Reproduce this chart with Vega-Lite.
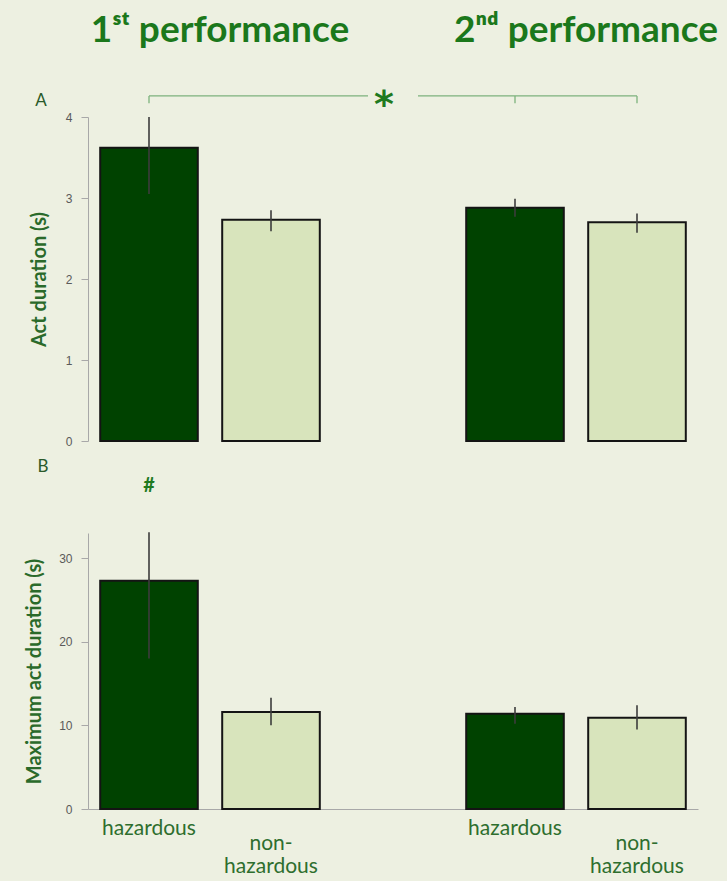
{
  "$schema": "https://vega.github.io/schema/vega-lite/v6.json",
  "background": "#edf0e1",
  "padding": {"left": 24, "top": 12, "right": 13, "bottom": 3},
  "bounds": "flush",
  "spacing": 92,
  "config": {
    "view": {"stroke": null},
    "font": "Lato",
    "axis": {
      "domainColor": "#a8a8a8",
      "tickColor": "#a8a8a8",
      "tickSize": 7,
      "labelColor": "#5a5a5a",
      "labelFont": "Liberation Sans",
      "labelFontSize": 12,
      "labelPadding": 9,
      "titleColor": "#2a6a2a",
      "titleFont": "Lato",
      "titleFontSize": 20,
      "titleFontWeight": "bold",
      "grid": false
    }
  },
  "datasets": {
    "act": [
      {"cond": "h1", "group": "hazardous", "mean": 3.62, "lo": 3.05, "hi": 4.0},
      {"cond": "n1", "group": "non-hazardous", "mean": 2.73, "lo": 2.59, "hi": 2.85},
      {"cond": "h2", "group": "hazardous", "mean": 2.88, "lo": 2.77, "hi": 2.99},
      {"cond": "n2", "group": "non-hazardous", "mean": 2.70, "lo": 2.57, "hi": 2.81}
    ],
    "maxact": [
      {"cond": "h1", "group": "hazardous", "mean": 27.3, "lo": 18.0, "hi": 33.1},
      {"cond": "n1", "group": "non-hazardous", "mean": 11.6, "lo": 10.0, "hi": 13.3},
      {"cond": "h2", "group": "hazardous", "mean": 11.4, "lo": 10.2, "hi": 12.2},
      {"cond": "n2", "group": "non-hazardous", "mean": 10.9, "lo": 9.5, "hi": 12.4}
    ],
    "titles": [
      {"cond": "h1", "text": "1ˢᵗ performance"},
      {"cond": "h2", "text": "2ⁿᵈ performance"}
    ],
    "bracket": [{"from": "h1", "to": "n2"}],
    "bracketTicks": [{"cond": "h1"}, {"cond": "h2"}, {"cond": "n2"}],
    "labels": [
      {"cond": "h1", "kind": "haz", "label": "hazardous"},
      {"cond": "n1", "kind": "non", "label": "non-\nhazardous"},
      {"cond": "h2", "kind": "haz", "label": "hazardous"},
      {"cond": "n2", "kind": "non", "label": "non-\nhazardous"}
    ]
  },
  "vconcat": [
    {
      "width": 610,
      "height": 324,
      "layer": [
        {
          "data": {"name": "act"},
          "mark": {"type": "bar", "stroke": "#141414", "strokeWidth": 2},
          "encoding": {
            "x": {"field": "cond", "type": "nominal", "scale": {"domain": ["h1", "n1", "gap", "h2", "n2"], "paddingInner": 0.2, "paddingOuter": 0.1}, "axis": null},
            "y": {"field": "mean", "type": "quantitative", "scale": {"domain": [0, 4], "nice": false}, "axis": {"title": "Act duration (s)", "values": [0, 1, 2, 3, 4], "format": "d", "titlePadding": 16}},
            "fill": {"field": "group", "type": "nominal", "scale": {"domain": ["hazardous", "non-hazardous"], "range": ["#004200", "#d8e4bc"]}, "legend": null}
          }
        },
        {
          "data": {"name": "act"},
          "mark": {"type": "rule", "color": "#3c3c3c", "strokeWidth": 1.6},
          "encoding": {
            "x": {"field": "cond", "type": "nominal"},
            "y": {"field": "lo", "type": "quantitative"},
            "y2": {"field": "hi"}
          }
        },
        {
          "data": {"name": "bracket"},
          "mark": {"type": "rule", "color": "#7cb27c", "strokeWidth": 1.3},
          "encoding": {
            "x": {"field": "from", "type": "nominal"},
            "x2": {"field": "to"},
            "y": {"datum": 4.26}
          }
        },
        {
          "data": {"name": "bracketTicks"},
          "mark": {"type": "rule", "color": "#7cb27c", "strokeWidth": 1.3},
          "encoding": {
            "x": {"field": "cond", "type": "nominal"},
            "y": {"datum": 4.26},
            "y2": {"datum": 4.17}
          }
        },
        {
          "data": {"values": [{"cond": "gap", "sig": "*"}]},
          "mark": {"type": "point", "shape": "square", "size": 2500, "filled": true, "color": "#edf0e1", "opacity": 1},
          "encoding": {
            "x": {"field": "cond", "type": "nominal"},
            "y": {"datum": 4.26}
          }
        },
        {
          "data": {"values": [{"cond": "gap", "sig": "*"}]},
          "mark": {"type": "text", "font": "DejaVu Sans", "fontSize": 38, "fontWeight": "bold", "color": "#1f7a1f", "baseline": "middle", "dy": 10, "dx": -9},
          "encoding": {
            "x": {"field": "cond", "type": "nominal"},
            "y": {"datum": 4.26},
            "text": {"field": "sig"}
          }
        },
        {
          "data": {"name": "titles"},
          "mark": {"type": "text", "fontSize": 37, "fontWeight": "bold", "color": "#1b781b", "baseline": "middle", "dx": 71},
          "encoding": {
            "x": {"field": "cond", "type": "nominal"},
            "y": {"datum": 5.06},
            "text": {"field": "text"}
          }
        },
        {
          "data": {"values": [{"cond": "h1", "panel": "A"}]},
          "mark": {"type": "text", "fontSize": 17, "color": "#2a5a2a", "baseline": "middle", "dx": -108},
          "encoding": {
            "x": {"field": "cond", "type": "nominal"},
            "y": {"datum": 4.2},
            "text": {"field": "panel"}
          }
        }
      ]
    },
    {
      "width": 610,
      "height": 276,
      "layer": [
        {
          "data": {"name": "maxact"},
          "mark": {"type": "bar", "stroke": "#141414", "strokeWidth": 2},
          "encoding": {
            "x": {"field": "cond", "type": "nominal", "scale": {"domain": ["h1", "n1", "gap", "h2", "n2"], "paddingInner": 0.2, "paddingOuter": 0.1}, "axis": {"title": null, "labels": false, "ticks": false}},
            "y": {"field": "mean", "type": "quantitative", "scale": {"domain": [0, 33], "nice": false}, "axis": {"title": "Maximum act duration (s)", "values": [0, 10, 20, 30], "titlePadding": 14}},
            "fill": {"field": "group", "type": "nominal", "scale": {"domain": ["hazardous", "non-hazardous"], "range": ["#004200", "#d8e4bc"]}, "legend": null}
          }
        },
        {
          "data": {"name": "maxact"},
          "mark": {"type": "rule", "color": "#3c3c3c", "strokeWidth": 1.6},
          "encoding": {
            "x": {"field": "cond", "type": "nominal"},
            "y": {"field": "lo", "type": "quantitative"},
            "y2": {"field": "hi"}
          }
        },
        {
          "data": {"values": [{"cond": "h1", "sig": "#"}]},
          "mark": {"type": "text", "fontSize": 20, "fontWeight": "bold", "color": "#1f7a1f", "baseline": "middle"},
          "encoding": {
            "x": {"field": "cond", "type": "nominal"},
            "y": {"datum": 38.6},
            "text": {"field": "sig"}
          }
        },
        {
          "data": {"values": [{"cond": "h1", "panel": "B"}]},
          "mark": {"type": "text", "fontSize": 17, "color": "#2a5a2a", "baseline": "middle", "dx": -106},
          "encoding": {
            "x": {"field": "cond", "type": "nominal"},
            "y": {"datum": 40.9},
            "text": {"field": "panel"}
          }
        },
        {
          "data": {"name": "labels"},
          "transform": [{"filter": "datum.kind == 'haz'"}],
          "mark": {"type": "text", "fontSize": 21, "color": "#2e6e2e", "baseline": "middle"},
          "encoding": {
            "x": {"field": "cond", "type": "nominal"},
            "y": {"datum": -2.4},
            "text": {"field": "label"}
          }
        },
        {
          "data": {"name": "labels"},
          "transform": [{"filter": "datum.kind == 'non'"}],
          "mark": {"type": "text", "fontSize": 21, "color": "#2e6e2e", "baseline": "middle", "lineBreak": "\n", "lineHeight": 23},
          "encoding": {
            "x": {"field": "cond", "type": "nominal"},
            "y": {"datum": -4.2},
            "text": {"field": "label"}
          }
        }
      ]
    }
  ]
}
